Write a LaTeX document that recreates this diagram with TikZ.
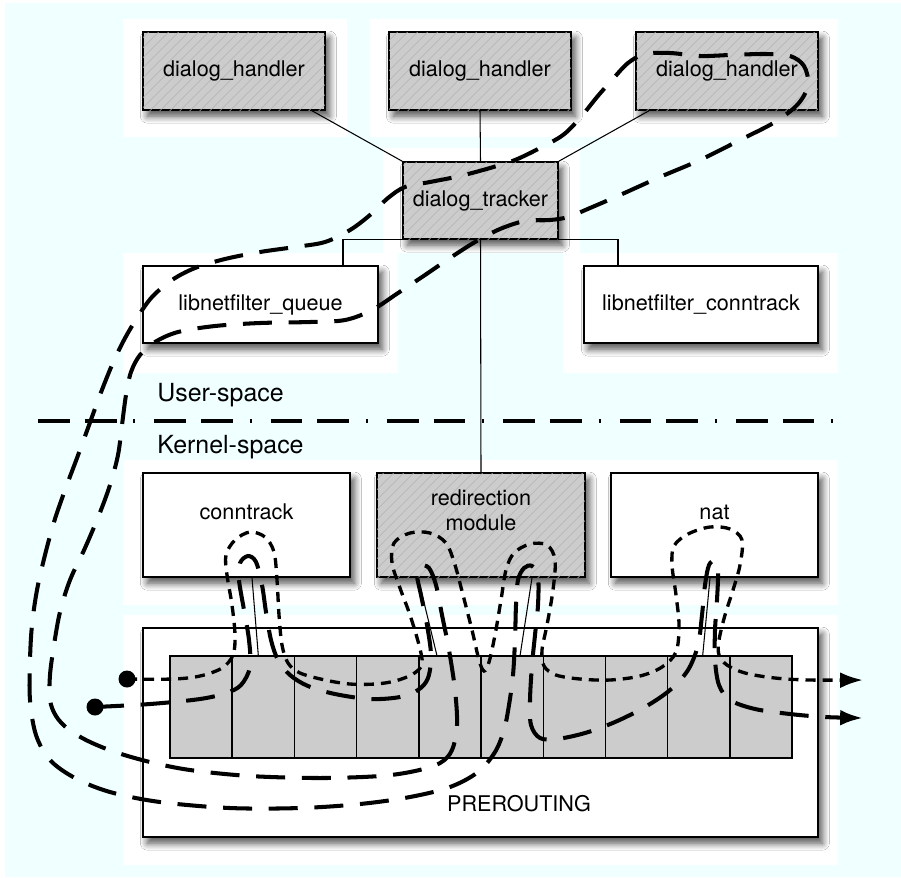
\documentclass[tikz,border=0pt]{standalone}
\usepackage{fontspec}
\setmainfont{TeX Gyre Heros}
\usetikzlibrary{calc,shadows.blur,patterns.meta,arrows.meta}

\definecolor{bgcyan}{RGB}{240,255,255}
\definecolor{boxgray}{RGB}{204,204,204}
\definecolor{hatchgray}{RGB}{178,178,178}

\begin{document}
\begin{tikzpicture}[x=0.02cm, y=-0.02cm,
	box/.style={draw, line width=0.9pt, fill=white, inner sep=0pt,
		blur shadow={shadow xshift=2.5pt, shadow yshift=-3.5pt, shadow blur radius=4pt, shadow blur steps=8, shadow opacity=70},
		font=\fontsize{12.3}{14.2}\selectfont},
	hatched/.style={box, fill=boxgray,
		postaction={pattern={Lines[angle=45, distance=4pt, line width=0.4pt]}, pattern color=hatchgray}},
	cell/.style={draw, line width=0.8pt, fill=boxgray, inner sep=0pt,
		minimum width=1.244cm, minimum height=2.04cm},
	link/.style={line width=0.6pt},
	spaceline/.style={line width=1.9pt, dash pattern=on 18.1pt off 8.5pt on 18.1pt off 9.6pt on 1.1pt off 10.8pt},
	spacetext/.style={anchor=west, inner sep=0pt, font=\fontsize{14.2}{16}\selectfont},
	flowlong/.style={line width=2.3pt, dash pattern=on 16.5pt off 9.5pt, -{Latex[length=13pt, width=9pt]}},
	flowshort/.style={line width=1.9pt, dash pattern=on 5.7pt off 4pt, -{Latex[length=13pt, width=9pt]}},
	endpoint/.style={circle, fill, inner sep=0pt, minimum size=0.34cm}
]

	% canvas
	\useasboundingbox (0,0) rectangle (901,877);
	\fill[white] (0,0) rectangle (901,877);
	\fill[bgcyan] (5,3) rectangle (901,877);

	% light panels behind the boxes
	\fill[white] (123,19) rectangle (347,137);
	\fill[white] (370,19) rectangle (838,137);
	\fill[white] (383,148) rectangle (580,253);
	\fill[white] (123,253) rectangle (398,373);
	\fill[white] (563,253) rectangle (838,373);
	\fill[white] (123,460) rectangle (838,605);
	\fill[white] (123,615) rectangle (838,865);

	% user-space
	\node[hatched, minimum width=3.64cm, minimum height=1.56cm] (handlerA) at (234,71) {dialog\_handler};
	\node[hatched, minimum width=3.64cm, minimum height=1.56cm] (handlerB) at (480,71) {dialog\_handler};
	\node[hatched, minimum width=3.64cm, minimum height=1.56cm] (handlerC) at (727,71) {dialog\_handler};
	\node[hatched, minimum width=3.1cm, minimum height=1.54cm] (tracker) at (480.5,200.5) {dialog\_tracker};
	\node[box, minimum width=4.7cm, minimum height=1.54cm] (queue) at (260.5,304.5) {libnetfilter\_queue};
	\node[box, minimum width=4.68cm, minimum height=1.54cm] (netct) at (701,304.5) {libnetfilter\_conntrack};

	% kernel-space
	\node[box, minimum width=4.14cm, minimum height=2.08cm, text height=8pt, text depth=14.8pt] (conntrack) at (246.5,525) {conntrack};
	\node[hatched, minimum width=4.16cm, minimum height=2.08cm, align=center, text height=14pt, text depth=8.3pt] (redir) at (481,525) {redirection\\module};
	\node[box, minimum width=4.14cm, minimum height=2.08cm, text height=8pt, text depth=14.8pt] (nat) at (714.5,525) {nat};

	% PREROUTING chain
	\node[box, minimum width=13.5cm, minimum height=4.18cm] (chain) at (480.5,732.5) {};
	\foreach \i in {1,...,10}
		\node[cell] (c\i) at ({170+62.2*(\i-0.5)},707) {};
	\node[font=\fontsize{12.3}{14.2}\selectfont] (chaintext) at (519,804) {PREROUTING};

	% user / kernel border
	\coordinate (sepL) at (38,421);
	\coordinate (sepR) at (840,421);
	\draw[spaceline] (sepL) -- (sepR);
	\node[spacetext] (user) at (157,395) {User-space};
	\node[spacetext] (kernel) at (157,447) {Kernel-space};

	% connectors
	\draw[link] (handlerA.-27.2) -- (tracker.north west);
	\draw[link] (handlerB.south) -- (tracker.north);
	\draw[link] (handlerC.207.5) -- (tracker.north east);
	\draw[link] (tracker.south west) -| ($(queue.north)+(82.5,0)$);
	\draw[link] (tracker.south east) -| ($(netct.north)+(-83,0)$);
	\draw[link] (tracker.south) -- (redir.north);

	% hooks into the chain
	\draw[link] ($(conntrack.south)+(5.5,0)$) -- ($(c2.north)+(-5,0)$);
	\draw[link] ($(redir.south)+(-63,0)$) -- ($(c5.north)+(-13,0)$);
	\draw[link] ($(redir.south)+(51,0)$) -- ($(c6.north)+(8,0)$);
	\draw[link] ($(nat.south)+(-4.5,0)$) -- ($(c9.north)+(4,0)$);

	% packet paths
	\node[endpoint] (srcA) at (95,707) {};
	\node[endpoint] (srcB) at (127,679) {};
	\coordinate (sinkA) at (863,718);
	\coordinate (sinkB) at (863,680);

	% short path: through the kernel modules only
	\draw[flowshort] plot[smooth, tension=0.55] coordinates {(srcB.center)
		(173,679) (200,676) (222,668) (233,655) (235,635) (232,605) (227,575) (226,555) (235,540)
		(250,532) (265,537) (274,552) (277,580) (279,615) (282,645) (288,663) (300,673) (325,680)
		(350,684) (375,684) (395,681) (413,674) (422,664) (419,645) (410,615) (400,588) (392,563)
		(394,543) (410,533) (430,533) (446,543) (455,565) (463,595) (472,630) (479,660) (484,671)
		(489,662) (495,635) (501,600) (506,570) (514,553) (530,544) (547,545) (555,560) (553,590)
		(547,625) (542,650) (544,666) (556,675) (580,679) (610,680) (640,676) (662,667) (676,652)
		(679,625) (676,595) (672,565) (674,546) (688,534) (710,527) (730,529) (742,540) (740,565)
		(733,590) (725,615) (719,640) (719,655) (727,665) (745,673) (775,678) (810,680) (sinkB)};

	% long path: up to the dialog handler and back
	\draw[flowlong] plot[smooth, tension=0.55] coordinates {(srcA.center)
		(150,704) (200,699) (226,693) (241,685) (250,667) (249,640) (244,610) (239,580) (240,563)
		(248,556) (256,562) (262,585) (266,612) (271,640) (278,660) (290,675) (308,686) (335,694)
		(370,699) (400,697) (418,690) (428,678) (431,655) (427,625) (421,595) (417,575) (421,566)
		(429,568) (436,585) (442,615) (449,650) (455,690) (457,725) (452,750) (440,763) (415,771)
		(380,776) (320,778) (250,776) (190,770) (150,762) (115,752) (88,741) (68,729) (56,716)
		(50,700) (50,675) (54,645) (60,612) (70,580) (85,548) (99,515) (110,485) (118,455)
		(122,425) (126,395) (131,372) (140,355) (155,342) (178,332) (215,326) (260,323) (310,322)
		(345,320) (372,310) (398,293) (425,275) (450,258) (475,242) (500,229) (525,221) (550,220)
		(568,217) (590,208) (620,195) (660,177) (700,160) (740,140) (775,122) (798,104) (808,85)
		(804,66) (790,56) (765,54) (730,55) (700,56) (670,53) (645,54) (628,63) (612,80) (597,97)
		(580,118) (563,135) (540,148) (515,160) (490,168) (460,176) (430,182) (405,187) (388,198)
		(370,215) (350,230) (325,242) (295,247) (260,252) (225,259) (195,268) (172,280) (152,297)
		(137,318) (124,340) (112,365) (100,395) (88,428) (77,458) (65,490) (54,522) (45,555)
		(37,590) (32,625) (30,660) (30,700) (36,735) (50,760) (75,778) (110,792) (160,802)
		(230,808) (300,808) (360,804) (410,797) (450,787) (478,772) (495,752) (504,730) (509,705)
		(513,675) (515,640) (516,605) (518,580) (524,568) (532,566) (538,577) (538,605) (535,635)
		(532,665) (530,700) (531,725) (540,738) (557,739) (585,733) (615,722) (645,707) (670,690)
		(688,670) (698,645) (702,615) (705,585) (709,565) (715,561) (718,572) (717,600) (715,630)
		(715,660) (719,685) (730,700) (755,709) (790,714) (825,717) (sinkA)};

\end{tikzpicture}
\end{document}
